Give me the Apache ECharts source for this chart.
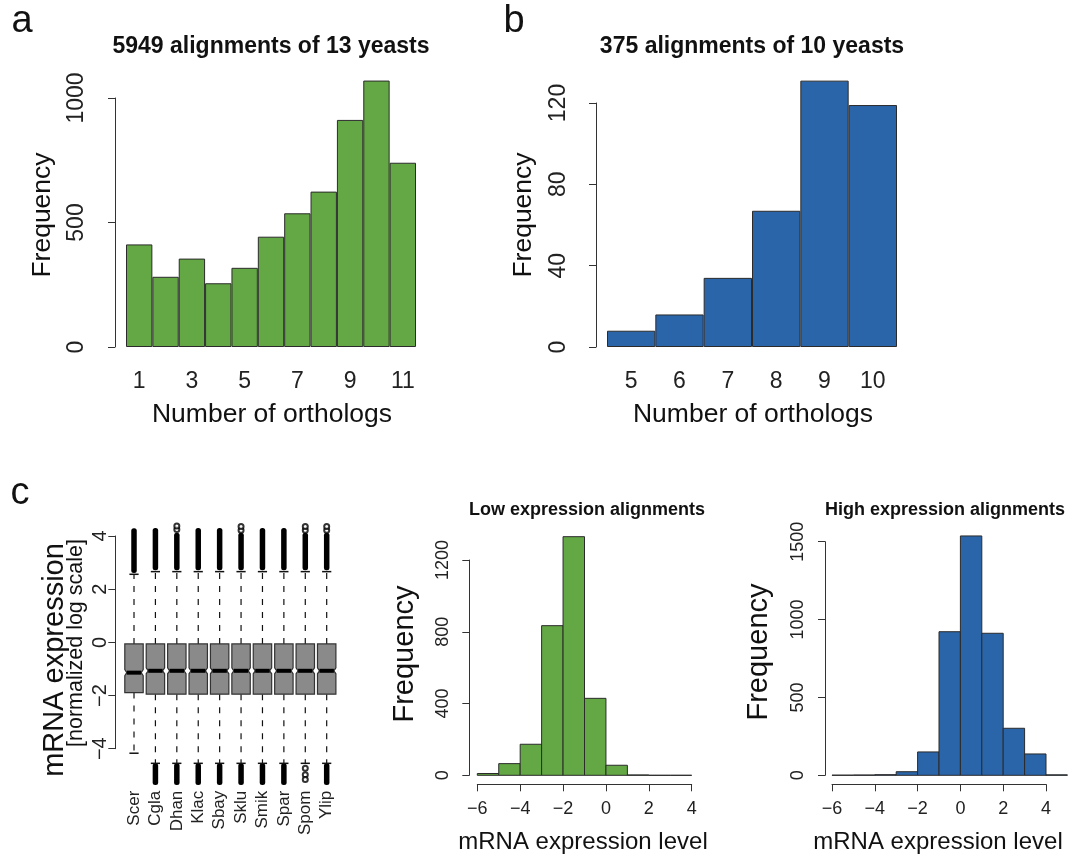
<!DOCTYPE html>
<html>
<head>
<meta charset="utf-8">
<script src="https://cdn.jsdelivr.net/npm/echarts@6/dist/echarts.min.js"></script>
<style>
html,body{margin:0;padding:0;background:#fff;}
#chart{width:1074px;height:858px;}
</style>
</head>
<body>
<div id="chart"></div>
<script>
// ---------- DATA ----------
const orthoCatsA = ['1','2','3','4','5','6','7','8','9','10','11'];
const freqA = [412, 282, 355, 256, 318, 443, 537, 624, 912, 1070, 740];

const orthoCatsB = ['5','6','7','8','9','10'];
const freqB = [8, 16, 34, 67, 131, 119];

const species = ['Scer','Cgla','Dhan','Klac','Sbay','Sklu','Smik','Spar','Spom','Ylip'];
const boxLowWhisker  = [-4.17, -4.55, -4.55, -4.55, -4.55, -4.55, -4.55, -4.55, -4.55, -4.55];
const boxQ1          = [-1.89, -1.95, -1.95, -1.95, -1.95, -1.95, -1.95, -1.95, -1.95, -1.95];
const boxMedian      = [-1.14, -1.07, -1.07, -1.07, -1.07, -1.07, -1.07, -1.07, -1.07, -1.07];
const boxQ3          = [-0.06, -0.06, -0.06, -0.06, -0.06, -0.06, -0.06, -0.06, -0.06, -0.06];
const boxHighWhisker = [2.56, 2.66, 2.66, 2.66, 2.66, 2.66, 2.66, 2.66, 2.66, 2.66];
const highOutlierTop = [4.29, 4.3, 4.12, 4.3, 4.3, 4.12, 4.3, 4.3, 4.12, 4.12];
const lowOutlierBottom = [null, -5.37, -5.37, -5.37, -5.37, -5.37, -5.37, -5.37, null, -5.37];
const singleOutliers = [[2, 4.24], [2, 4.38], [5, 4.22], [5, 4.36], [8, 4.22], [8, 4.36], [9, 4.22], [9, 4.36],
                        [8, -4.74], [8, -4.98], [8, -5.16]];

const exprBinEdgesLow  = [-6, -5, -4, -3, -2, -1, 0, 1, 2, 3, 4];
const exprCountsLow    = [10, 65, 173, 834, 1330, 429, 56, 2, 0, 0];
const exprBinEdgesHigh = [-6, -5, -4, -3, -2, -1, 0, 1, 2, 3, 4, 5];
const exprCountsHigh   = [1, 2, 4, 23, 150, 922, 1537, 912, 302, 137, 3];

const ticksA = [0, 500, 1000];
const ticksB = [0, 40, 80, 120];
const ticksBox = [-4, -2, 0, 2, 4];
const ticksLow = [0, 400, 800, 1200];
const ticksHigh = [0, 500, 1000, 1500];
const ticksExpr = [-6, -4, -2, 0, 2, 4];

// ---------- STYLE ----------
const FONT = 'Liberation Sans, Arial, Helvetica, sans-serif';
const GREEN = '#63a844';
const BLUE = '#2a65aa';
const EDGE = '#2b2b2b';
const AX = '#333333';
const minus = v => String(v).replace('-', '\u2212');

function yAx(grid, ticks, offset, fontSize, margin) {
  return {
    type: 'value', gridIndex: grid, position: 'left',
    min: ticks[0], max: ticks[ticks.length - 1], interval: ticks[1] - ticks[0],
    offset: offset,
    axisLine: {show: true, onZero: false, lineStyle: {color: AX, width: 1}},
    axisTick: {show: true, length: 7, lineStyle: {color: AX}},
    splitLine: {show: false},
    axisLabel: {rotate: 90, fontFamily: FONT, fontSize: fontSize, color: '#222', margin: margin, formatter: minus}
  };
}

function xExpr(grid) {
  return {
    type: 'value', gridIndex: grid, position: 'bottom',
    min: ticksExpr[0], max: ticksExpr[ticksExpr.length - 1], interval: ticksExpr[1] - ticksExpr[0], offset: 9,
    axisLine: {show: true, onZero: false, lineStyle: {color: AX}},
    axisTick: {show: true, length: 7, lineStyle: {color: AX}},
    splitLine: {show: false},
    axisLabel: {fontFamily: FONT, fontSize: 18, color: '#222', margin: 16, formatter: minus}
  };
}

function histRender(color) {
  return function (params, api) {
    const p0 = api.coord([api.value(0), 0]);
    const p1 = api.coord([api.value(1), api.value(2)]);
    return {
      type: 'rect',
      shape: {x: p0[0], y: p1[1], width: p1[0] - p0[0], height: p0[1] - p1[1]},
      style: {fill: color, stroke: EDGE, lineWidth: 1}
    };
  };
}

function boxRender(params, api) {
  const i = api.value(0);
  const pm = api.coord([i, api.value(3)]);
  const x = pm[0], ym = pm[1];
  const band = api.size([1, 0])[0];
  const hw = band * 0.43;
  const ylo = api.coord([i, api.value(1)])[1];
  const yq1 = api.coord([i, api.value(2)])[1];
  const yq3 = api.coord([i, api.value(4)])[1];
  const yhi = api.coord([i, api.value(5)])[1];
  const n = 3, d = 2, sw = hw * 0.5;
  const dash = {stroke: '#111', lineWidth: 1.2, lineDash: [6, 7]};
  return {
    type: 'group',
    children: [
      {type: 'line', shape: {x1: x, y1: yq3, x2: x, y2: yhi}, style: dash},
      {type: 'line', shape: {x1: x, y1: yq1, x2: x, y2: ylo}, style: dash},
      {type: 'line', shape: {x1: x - sw, y1: yhi, x2: x + sw, y2: yhi}, style: {stroke: '#111', lineWidth: 1.5}},
      {type: 'line', shape: {x1: x - sw, y1: ylo, x2: x + sw, y2: ylo}, style: {stroke: '#111', lineWidth: 1.5}},
      {type: 'polygon', shape: {points: [
        [x - hw, yq3], [x + hw, yq3], [x + hw, ym - n], [x + hw - d, ym], [x + hw, ym + n],
        [x + hw, yq1], [x - hw, yq1], [x - hw, ym + n], [x - hw + d, ym], [x - hw, ym - n]]},
        style: {fill: '#8a8a8a', stroke: '#333', lineWidth: 1.2}},
      {type: 'line', shape: {x1: x - hw + d, y1: ym, x2: x + hw - d, y2: ym}, style: {stroke: '#000', lineWidth: 4}}
    ]
  };
}

function outColumnRender(params, api) {
  const i = api.value(0);
  const a = api.coord([i, api.value(1)]);
  const b = api.coord([i, api.value(2)]);
  const w = 5.5;
  return {
    type: 'rect',
    shape: {x: a[0] - w / 2, y: Math.min(a[1], b[1]), width: w, height: Math.abs(b[1] - a[1]), r: 2.5},
    style: {fill: '#000'}
  };
}

const histLowData = exprCountsLow.map((c, i) => [exprBinEdgesLow[i], exprBinEdgesLow[i + 1], c]);
const histHighData = exprCountsHigh.map((c, i) => [exprBinEdgesHigh[i], exprBinEdgesHigh[i + 1], c]);
const boxData = species.map((s, i) => [i, boxLowWhisker[i], boxQ1[i], boxMedian[i], boxQ3[i], boxHighWhisker[i]]);
const outColData = [];
species.forEach((s, i) => {
  outColData.push([i, boxHighWhisker[i] + 0.05, highOutlierTop[i]]);
  if (lowOutlierBottom[i] !== null) outColData.push([i, boxLowWhisker[i], lowOutlierBottom[i]]);
});

function txt(text, x, y, size, opts) {
  opts = opts || {};
  return {
    type: 'text', x: x, y: y, rotation: opts.rot ? Math.PI / 2 : 0,
    style: {text: text, font: (opts.bold ? 'bold ' : '') + size + 'px ' + FONT,
            fill: '#111', align: 'center', verticalAlign: 'middle'}
  };
}

const option = {
  animation: false,
  backgroundColor: '#fff',
  grid: [
    {left: 126, right: 658, top: 98, bottom: 511},
    {left: 607, right: 177, top: 103, bottom: 511},
    {left: 123.3, right: 736.6, top: 536, bottom: 109.3},
    {left: 477.3, right: 382.3, top: 560, bottom: 82.7},
    {left: 832, right: 28, top: 541.7, bottom: 82.7}
  ],
  xAxis: [
    {type: 'category', gridIndex: 0, data: orthoCatsA, boundaryGap: true,
     axisLine: {show: false}, axisTick: {show: false},
     axisLabel: {interval: 1, fontFamily: FONT, fontSize: 23, color: '#222', margin: 23}},
    {type: 'category', gridIndex: 1, data: orthoCatsB, boundaryGap: true,
     axisLine: {show: false}, axisTick: {show: false},
     axisLabel: {interval: 0, fontFamily: FONT, fontSize: 23, color: '#222', margin: 23}},
    {type: 'category', gridIndex: 2, data: species, boundaryGap: true,
     axisLine: {show: false}, axisTick: {show: false},
     axisLabel: {interval: 0, rotate: 90, fontFamily: FONT, fontSize: 17, color: '#222', margin: 42}},
    xExpr(3),
    xExpr(4)
  ],
  yAxis: [
    yAx(0, ticksA, 11, 23, 27),
    yAx(1, ticksB, 11, 23, 26),
    yAx(2, ticksBox, 8, 20, 5),
    yAx(3, ticksLow, 8, 18, 17),
    yAx(4, ticksHigh, 7, 18, 18)
  ],
  series: [
    {type: 'bar', xAxisIndex: 0, yAxisIndex: 0, data: freqA, barCategoryGap: '0%', clip: false,
     itemStyle: {color: GREEN, borderColor: EDGE, borderWidth: 1}},
    {type: 'bar', xAxisIndex: 1, yAxisIndex: 1, data: freqB, barCategoryGap: '0%', clip: false,
     itemStyle: {color: BLUE, borderColor: EDGE, borderWidth: 1}},
    {type: 'custom', xAxisIndex: 2, yAxisIndex: 2, data: outColData, renderItem: outColumnRender,
     encode: {x: 0, y: [1, 2]}, clip: false, z: 3},
    {type: 'custom', xAxisIndex: 2, yAxisIndex: 2, data: boxData, renderItem: boxRender,
     encode: {x: 0, y: [1, 2, 3, 4, 5]}, clip: false, z: 4},
    {type: 'scatter', xAxisIndex: 2, yAxisIndex: 2, data: singleOutliers, symbol: 'emptyCircle', symbolSize: 5,
     itemStyle: {color: '#000', borderColor: '#000', borderWidth: 1.2}, clip: false, z: 5},
    {type: 'custom', xAxisIndex: 3, yAxisIndex: 3, data: histLowData, renderItem: histRender(GREEN),
     encode: {x: [0, 1], y: 2}, clip: false},
    {type: 'custom', xAxisIndex: 4, yAxisIndex: 4, data: histHighData, renderItem: histRender(BLUE),
     encode: {x: [0, 1], y: 2}, clip: false}
  ],
  graphic: [
    txt('a', 22, 22, 38),
    txt('b', 514, 22, 38),
    txt('c', 20, 494, 38),
    txt('5949 alignments of 13 yeasts', 271, 47, 23, {bold: true}),
    txt('375 alignments of 10 yeasts', 752, 47, 23, {bold: true}),
    txt('Number of orthologs', 272, 415, 26.5),
    txt('Number of orthologs', 753, 415, 26.5),
    txt('Frequency', 43, 215, 26.5, {rot: true}),
    txt('Frequency', 524, 215, 26.5, {rot: true}),
    txt('mRNA expression', 55, 660, 29, {rot: true}),
    txt('[normalized log scale]', 76, 643, 21.5, {rot: true}),
    txt('Low expression alignments', 587, 510, 18, {bold: true}),
    txt('High expression alignments', 945, 510, 18, {bold: true}),
    txt('Frequency', 405, 654, 29, {rot: true}),
    txt('Frequency', 759, 652, 29, {rot: true}),
    txt('mRNA expression level', 583, 842, 24),
    txt('mRNA expression level', 938, 842, 24)
  ]
};

const chart = echarts.init(document.getElementById('chart'), null, {renderer: 'canvas', width: 1074, height: 858});
chart.setOption(option);
</script>
</body>
</html>
